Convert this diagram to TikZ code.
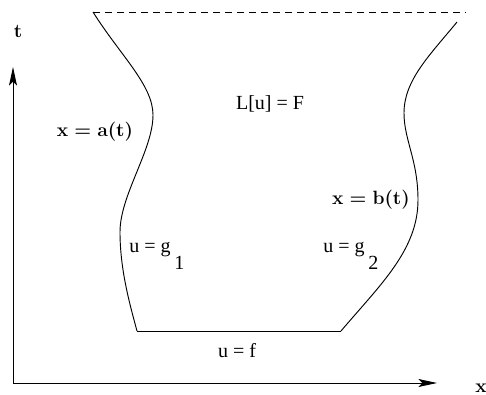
\documentclass[tikz,border=0pt]{standalone}
\usepackage{fontspec}
\newfontfamily\tms{Liberation Serif}
\usetikzlibrary{arrows.meta}
\tikzset{
  curve/.style={line width=0.7pt},
  axis/.style={line width=0.7pt,-{Stealth[length=14pt,width=6pt,inset=3pt]}},
  plain/.style={inner sep=0pt,font=\fontsize{15}{17}\selectfont\tms},
  boldlab/.style={inner sep=0pt,font=\fontsize{13.5}{15}\selectfont\boldmath},
}
\begin{document}
\begin{tikzpicture}[x=0.75pt,y=-0.75pt]
\useasboundingbox (0,0) rectangle (486,395);
% boundary points
\coordinate (tl) at (93,12);
\coordinate (tr) at (466,12);
\coordinate (bl) at (137,331);
\coordinate (br) at (341,331);
\coordinate (rt) at (457,22);
\coordinate (o) at (13,383);
\coordinate (ty) at (13,67);
\coordinate (tx) at (437,383);
% dashed top
\draw[curve,dashed,dash pattern=on 5pt off 4pt] (tl) -- (tr);
% left boundary
\draw[curve] (tl) .. controls (120,55) and (153,85) .. (153,115)
  .. controls (153,150) and (120,195) .. (120,232)
  .. controls (120,270) and (130,305) .. (bl);
% bottom
\draw[curve] (bl) -- (br);
% right boundary
\draw[curve] (br) .. controls (380,285) and (418,250) .. (418,200)
  .. controls (418,160) and (404,140) .. (404,113)
  .. controls (404,80) and (430,55) .. (rt);
% axes
\draw[axis] (o) -- (ty);
\draw[axis] (o) -- (tx);
% labels
\node[boldlab,anchor=base] (lt) at (18,38) {$\mathbf{t}$};
\node[boldlab,anchor=base] (lx) at (481,393) {$\mathbf{x}$};
\node[boldlab,anchor=base] (la) at (95,137) {$\mathbf{x = a(t)}$};
\node[boldlab,anchor=base] (lb) at (371,205) {$\mathbf{x = b(t)}$};
\node[plain,anchor=base] (lL) at (270,110) {L[u] = F};
\node[plain,anchor=base west] (lg1) at (129,253) {u = g};
\node[plain,anchor=base west] (lg1s) at (174,270) {1};
\node[plain,anchor=base west] (lg2) at (323,253) {u = g};
\node[plain,anchor=base west] (lg2s) at (368,270) {2};
\node[plain,anchor=base] (lf) at (237,358) {u = f};
\end{tikzpicture}
\end{document}
